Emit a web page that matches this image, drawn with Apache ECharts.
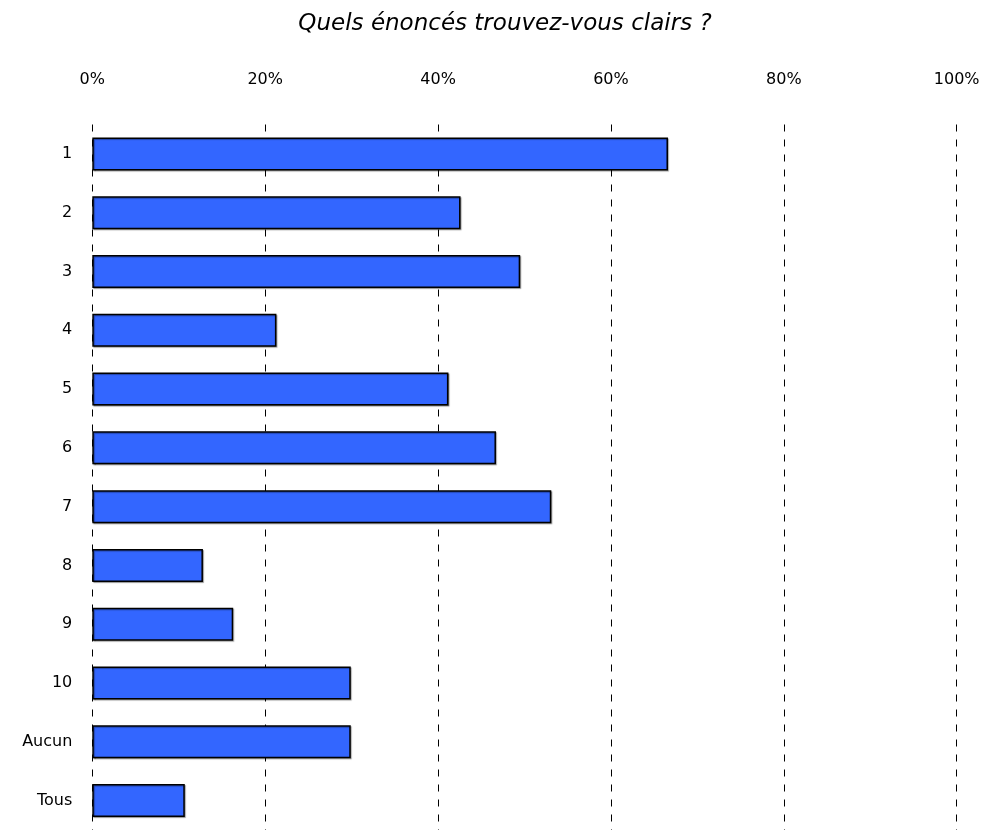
<!DOCTYPE html>
<html>
<head>
<meta charset="utf-8">
<script src="https://cdn.jsdelivr.net/npm/echarts@6/dist/echarts.min.js"></script>
<style>
  html, body { margin: 0; padding: 0; background: #ffffff; }
  #chart { width: 985px; height: 830px; }
</style>
</head>
<body>
<div id="chart"></div>
<script>
// Survey answers: share of respondents who found each statement clear (%)
const categories = ['1', '2', '3', '4', '5', '6', '7', '8', '9', '10', 'Aucun', 'Tous'];
const shares = [66.6, 42.6, 49.5, 21.3, 41.2, 46.7, 53.1, 12.8, 16.3, 29.9, 29.9, 10.7];
const titleText = 'Quels énoncés trouvez-vous clairs ?';

const fontFamily = 'DejaVu Sans, Verdana, sans-serif';

const chart = echarts.init(document.getElementById('chart'), null, { renderer: 'canvas' });
chart.setOption({
  backgroundColor: '#ffffff',
  animation: false,
  title: {
    text: titleText,
    left: 500,
    textAlign: 'center',
    top: 8,
    textStyle: {
      fontFamily: fontFamily,
      fontStyle: 'italic',
      fontWeight: 'normal',
      fontSize: 23,
      color: '#000000'
    }
  },
  grid: {
    left: 92.3,
    right: 28.3,
    top: 124.5,
    bottom: -3.5,
    containLabel: false
  },
  xAxis: {
    type: 'value',
    position: 'top',
    min: 0,
    max: 100,
    interval: 20,
    axisLine: { show: false },
    axisTick: { show: false },
    axisLabel: {
      margin: 37,
      formatter: '{value}%',
      fontFamily: fontFamily,
      fontSize: 16,
      color: '#000000'
    },
    splitLine: {
      show: true,
      lineStyle: { color: '#000000', width: 1, type: [7, 8] }
    }
  },
  yAxis: {
    type: 'category',
    data: categories,
    inverse: true,
    axisLine: { show: false },
    axisTick: { show: false },
    axisLabel: {
      margin: 20,
      fontFamily: fontFamily,
      fontSize: 16,
      color: '#000000'
    },
    splitLine: { show: false }
  },
  series: [{
    type: 'bar',
    data: shares,
    barWidth: 33,
    itemStyle: {
      color: '#3366ff',
      borderColor: '#000000',
      borderWidth: 1.5,
      shadowColor: 'rgba(0,0,0,0.35)',
      shadowOffsetX: 1,
      shadowOffsetY: 1,
      shadowBlur: 1
    }
  }]
});
</script>
</body>
</html>
